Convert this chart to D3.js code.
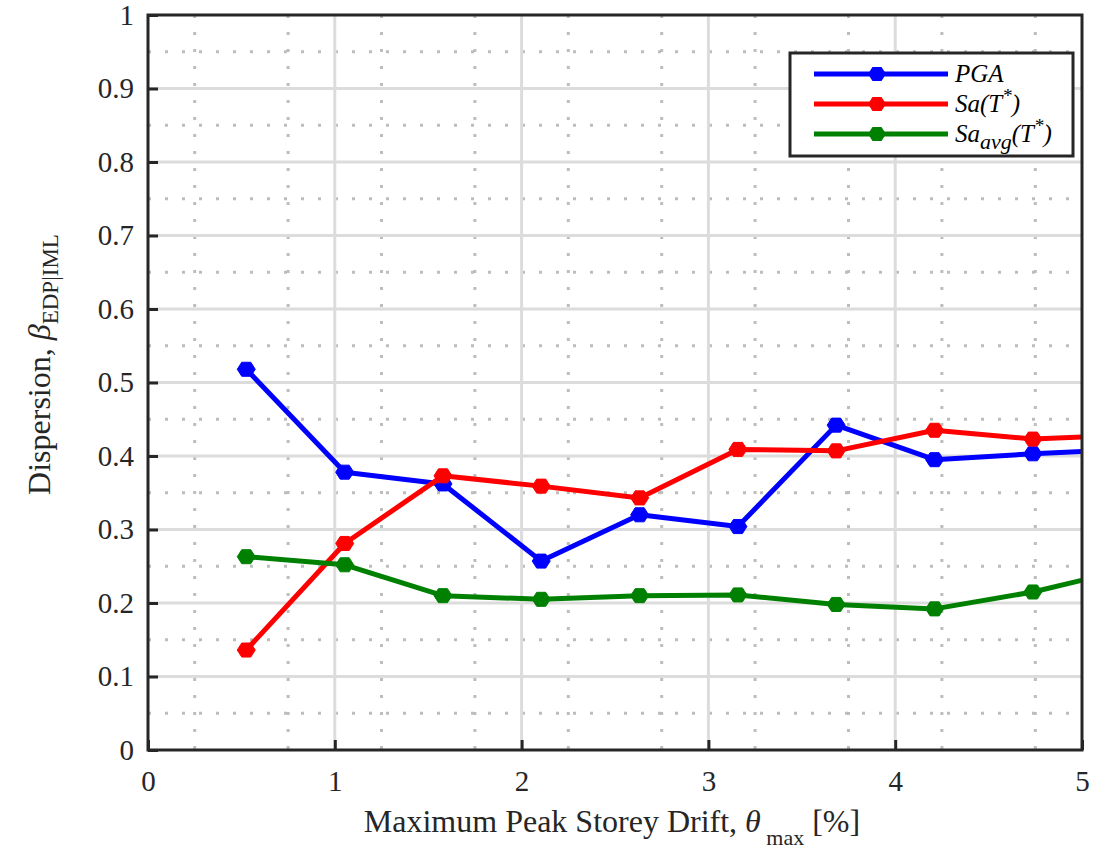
<!DOCTYPE html>
<html>
<head>
<meta charset="utf-8">
<script src="https://cdn.jsdelivr.net/npm/d3@7"></script>
<style>
  body { margin: 0; background: #fff; }
</style>
</head>
<body>
<script>
// drift levels (%)
var drift = [0.526, 1.053, 1.579, 2.105, 2.632, 3.158, 3.684, 4.211, 4.737, 5.263];
var pga = [0.518, 0.378, 0.362, 0.257, 0.320, 0.304, 0.442, 0.395, 0.403, 0.409];
var sa = [0.136, 0.281, 0.373, 0.359, 0.343, 0.409, 0.407, 0.435, 0.423, 0.429];
var saAvg = [0.263, 0.252, 0.210, 0.205, 0.210, 0.211, 0.198, 0.192, 0.215, 0.247];
var xTicks = [0, 1, 2, 3, 4, 5];
var yTicks = [0, 0.1, 0.2, 0.3, 0.4, 0.5, 0.6, 0.7, 0.8, 0.9, 1];

var series = [
  { name: "pga", values: pga, color: "#0000ff" },
  { name: "sa", values: sa, color: "#ff0000" },
  { name: "saavg", values: saAvg, color: "#008000" }
];

var FONT = "'Liberation Serif'";
var width = 1094, height = 852;
var margin = { top: 15, right: 12, bottom: 102, left: 148 };
var w = width - margin.left - margin.right,
    h = height - margin.top - margin.bottom;

var svg = d3.select("body").append("svg")
  .attr("width", width)
  .attr("height", height);

var g = svg.append("g")
  .attr("transform", "translate(" + margin.left + "," + margin.top + ")");

var x = d3.scaleLinear().domain([0, 5]).range([0, w]);
var y = d3.scaleLinear().domain([0, 1]).range([h, 0]);

svg.append("defs").append("clipPath").attr("id", "clip")
  .append("rect").attr("width", w).attr("height", h);

// minor grid (dotted)
g.selectAll(".mx").data(d3.range(0.25, 5, 0.5)).enter().append("line")
  .attr("x1", d => x(d)).attr("x2", d => x(d))
  .attr("y1", 0).attr("y2", h)
  .attr("stroke", "#bdbdbd").attr("stroke-width", 3)
  .attr("stroke-dasharray", "3,14");
g.selectAll(".my").data(d3.range(0.05, 1, 0.1)).enter().append("line")
  .attr("x1", 0).attr("x2", w)
  .attr("y1", d => y(d)).attr("y2", d => y(d))
  .attr("stroke", "#bdbdbd").attr("stroke-width", 3)
  .attr("stroke-dasharray", "3,14");

// major grid
g.selectAll(".gx").data(xTicks.slice(1, -1)).enter().append("line")
  .attr("x1", d => x(d)).attr("x2", d => x(d))
  .attr("y1", 0).attr("y2", h)
  .attr("stroke", "#dcdcdc").attr("stroke-width", 3);
g.selectAll(".gy").data(yTicks.slice(1, -1)).enter().append("line")
  .attr("x1", 0).attr("x2", w)
  .attr("y1", d => y(d)).attr("y2", d => y(d))
  .attr("stroke", "#dcdcdc").attr("stroke-width", 3);

// axes
var xAxis = d3.axisBottom(x).tickValues(xTicks).tickSize(-10).tickPadding(20).tickFormat(d3.format("d"));
var yAxis = d3.axisLeft(y).tickValues(yTicks).tickSize(-10).tickPadding(14).tickFormat(d => d === 0 || d === 1 ? d : d3.format(".1f")(d));

var gx = g.append("g").attr("transform", "translate(0," + h + ")").call(xAxis);
var gy = g.append("g").call(yAxis);
[gx, gy].forEach(function(a) {
  a.attr("font-family", FONT);
  a.select(".domain").remove();
  a.selectAll("line").attr("stroke", "#262626").attr("stroke-width", 3);
  a.selectAll("text").style("font-size", "29px").attr("fill", "#262626");
});

// line + markers
var line = d3.line().x(d => x(d[0])).y(d => y(d[1]));
var hex = function(r) {
  var pts = [[-r, 0], [-r / 2, -r * 0.78], [r / 2, -r * 0.78], [r, 0], [r / 2, r * 0.78], [-r / 2, r * 0.78]];
  return "M" + pts.join("L") + "Z";
};

var plot = g.append("g").attr("clip-path", "url(#clip)");
series.forEach(function(s) {
  var pts = drift.map((d, i) => [d, s.values[i]]);
  plot.append("path").datum(pts)
    .attr("d", line)
    .attr("fill", "none")
    .attr("stroke", s.color)
    .attr("stroke-width", 5)
    .attr("stroke-linejoin", "round");
  plot.selectAll(null).data(pts).enter().append("path")
    .attr("d", hex(9))
    .attr("transform", d => "translate(" + x(d[0]) + "," + y(d[1]) + ")")
    .attr("fill", s.color)
    .attr("stroke", s.color)
    .attr("stroke-width", 1);
});

// frame
g.append("rect").attr("width", w).attr("height", h)
  .attr("fill", "none").attr("stroke", "#262626").attr("stroke-width", 3);

// legend
var lg = svg.append("g").attr("transform", "translate(790,53)").attr("font-family", FONT);
lg.append("rect").attr("width", 283).attr("height", 103)
  .attr("fill", "#fff").attr("stroke", "#262626").attr("stroke-width", 3);
var labels = [
  [["PGA", 0, 25]],
  [["Sa(T", 0, 25], ["*", -10, 19], [")", 10, 25]],
  [["Sa", 0, 25], ["avg", 7, 22], ["(T", -7, 25], ["*", -10, 19], [")", 10, 25]]
];
series.forEach(function(s, i) {
  var row = lg.append("g").attr("transform", "translate(0," + (21 + i * 30) + ")");
  row.append("line").attr("x1", 24).attr("x2", 158).attr("y1", 0).attr("y2", 0)
    .attr("stroke", s.color).attr("stroke-width", 5);
  row.append("path").attr("d", hex(9)).attr("transform", "translate(87,0)")
    .attr("fill", s.color);
  var t = row.append("text").attr("x", 165).attr("y", 8)
    .style("font-style", "italic").attr("fill", "#000");
  labels[i].forEach(function(p) {
    t.append("tspan").text(p[0]).attr("dy", p[1]).style("font-size", p[2] + "px");
  });
});

// axis titles
var titles = svg.append("g").attr("font-family", FONT);

var xl = titles.append("text")
  .attr("x", 612).attr("y", 832)
  .attr("text-anchor", "middle")
  .attr("fill", "#262626")
  .style("font-size", "32px");
xl.append("tspan").text("Maximum Peak Storey Drift,  ");
xl.append("tspan").text("θ").style("font-style", "italic");
xl.append("tspan").text(" max").attr("dy", 13).style("font-size", "22px");
xl.append("tspan").text(" [%]").attr("dy", -13);

var yl = titles.append("text")
  .attr("transform", "translate(50," + (margin.top + h / 2 - 18) + ") rotate(-90)")
  .attr("text-anchor", "middle")
  .attr("fill", "#262626")
  .style("font-size", "32px");
yl.append("tspan").text("Dispersion, ");
yl.append("tspan").text("β").style("font-style", "italic");
yl.append("tspan").text("EDP|IML").attr("dy", 8).style("font-size", "23px");
</script>
</body>
</html>
